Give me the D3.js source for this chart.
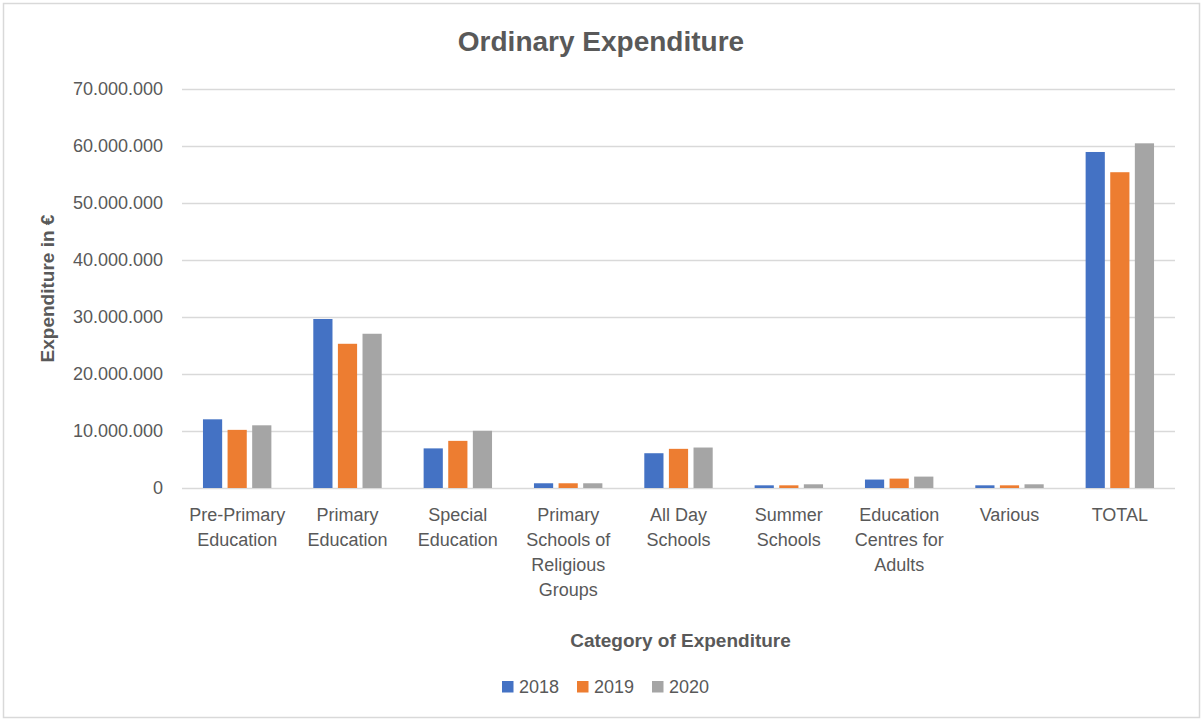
<!DOCTYPE html>
<html>
<head>
<meta charset="utf-8">
<script src="https://cdn.jsdelivr.net/npm/d3@7"></script>
<style>
  html, body { margin: 0; padding: 0; background: #fff; }
  svg text { font-family: "Liberation Sans", Arial, sans-serif; fill: #595959; }
</style>
</head>
<body>
<svg id="chart" width="1201" height="720"></svg>
<script>
let WIDTH = 1201, HEIGHT = 720;
let M = { top: 89, right: 26, bottom: 232, left: 182 };

// data
let categories = ["Pre-Primary Education", "Primary Education", "Special Education",
    "Primary Schools of Religious Groups", "All Day Schools", "Summer Schools",
    "Education Centres for Adults", "Various", "TOTAL"];
let tickLabels = [
    ["Pre-Primary", "Education"],
    ["Primary", "Education"],
    ["Special", "Education"],
    ["Primary", "Schools of", "Religious", "Groups"],
    ["All Day", "Schools"],
    ["Summer", "Schools"],
    ["Education", "Centres for", "Adults"],
    ["Various"],
    ["TOTAL"]
];
let years = ["2018", "2019", "2020"];
let values2018 = [12050000, 29650000, 6950000, 830000, 6100000, 470000, 1480000, 470000, 58950000];
let values2019 = [10200000, 25300000, 8270000, 830000, 6870000, 470000, 1650000, 470000, 55400000];
let values2020 = [11000000, 27060000, 10040000, 830000, 7100000, 650000, 2000000, 650000, 60470000];
let yTicks = [0, 10000000, 20000000, 30000000, 40000000, 50000000, 60000000, 70000000];
let colors = ["#4472C4", "#ED7D31", "#A5A5A5"];

let series = [values2018, values2019, values2020];

function fmtDots(v) {
    // 70000000 -> 70.000.000
    return d3.format(",")(v).replace(/,/g, ".");
}

function draw() {
    let svg = d3.select("#chart");
    let plotW = WIDTH - M.left - M.right;
    let plotH = HEIGHT - M.top - M.bottom;

    // outer frame
    svg.append("rect")
        .attr("x", 3.5).attr("y", 3.5)
        .attr("width", WIDTH - 5).attr("height", HEIGHT - 6)
        .attr("fill", "#fff")
        .attr("stroke", "#D9D9D9")
        .attr("stroke-width", 1.5);

    let x0 = d3.scaleBand().domain(categories).range([M.left, M.left + plotW]).padding(0);
    let inner = x0.bandwidth();
    let x1 = d3.scaleBand().domain(years)
        .range([inner * 0.19, inner * 0.81])
        .paddingInner(0.22);
    let y = d3.scaleLinear().domain([0, 70000000]).range([M.top + plotH, M.top]);

    // gridlines + y tick labels
    let yAxis = d3.axisLeft(y)
        .tickValues(yTicks)
        .tickSize(-plotW)
        .tickPadding(19)
        .tickFormat(fmtDots);
    let gy = svg.append("g")
        .attr("transform", `translate(${M.left},0)`)
        .call(yAxis);
    gy.select(".domain").remove();
    gy.selectAll(".tick line").attr("stroke", "#D9D9D9").attr("stroke-width", 1.3);
    gy.selectAll(".tick text")
        .attr("font-size", 18)
        .attr("font-family", "Liberation Sans, Arial, sans-serif")
        .attr("fill", "#595959");

    // bars
    let groups = svg.append("g").selectAll("g")
        .data(categories)
        .join("g")
        .attr("transform", d => `translate(${x0(d)},0)`);

    groups.selectAll("rect")
        .data((d, i) => years.map((yr, k) => ({ year: yr, value: series[k][i], k: k })))
        .join("rect")
        .attr("x", d => x1(d.year))
        .attr("width", x1.bandwidth())
        .attr("y", d => y(d.value))
        .attr("height", d => y(0) - y(d.value))
        .attr("fill", d => colors[d.k]);

    // category labels (wrapped)
    let labels = svg.append("g").selectAll("text")
        .data(categories)
        .join("text")
        .attr("text-anchor", "middle")
        .attr("font-size", 18)
        .attr("x", d => x0(d) + inner / 2)
        .attr("y", 521);
    labels.selectAll("tspan")
        .data((d, i) => tickLabels[i])
        .join("tspan")
        .attr("x", function () { return d3.select(this.parentNode).attr("x"); })
        .attr("dy", (d, i) => i === 0 ? 0 : 25)
        .text(d => d);

    // title
    svg.append("text")
        .attr("x", 601).attr("y", 51)
        .attr("text-anchor", "middle")
        .attr("font-size", 28)
        .attr("font-weight", "bold")
        .text("Ordinary Expenditure");

    // axis titles
    svg.append("text")
        .attr("x", M.left + plotW / 2 + 2).attr("y", 647)
        .attr("text-anchor", "middle")
        .attr("font-size", 19)
        .attr("font-weight", "bold")
        .text("Category of Expenditure");

    svg.append("text")
        .attr("transform", `translate(54, ${M.top + plotH / 2}) rotate(-90)`)
        .attr("text-anchor", "middle")
        .attr("font-size", 19)
        .attr("font-weight", "bold")
        .text("Expenditure in €");

    // legend
    let leg = svg.append("g").selectAll("g")
        .data(years)
        .join("g")
        .attr("transform", (d, i) => `translate(${502 + i * 75},681)`);
    leg.append("rect")
        .attr("width", 11.5).attr("height", 11.5)
        .attr("fill", (d, i) => colors[i]);
    leg.append("text")
        .attr("x", 17).attr("y", 12)
        .attr("font-size", 18)
        .text(d => d);
}

draw();
</script>
</body>
</html>
